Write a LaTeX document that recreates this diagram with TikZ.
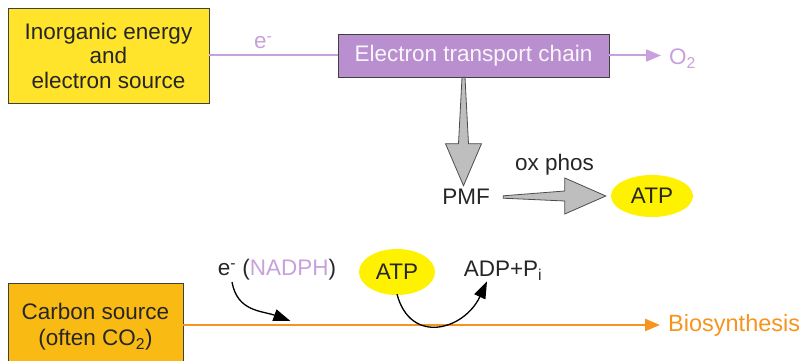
\documentclass[tikz,border=0pt]{standalone}
\usepackage{fontspec}
\setmainfont{Liberation Sans}
\usetikzlibrary{positioning, calc, arrows.meta, shapes.geometric}

\definecolor{srcyellow}{RGB}{255,228,43}
\definecolor{etcpurple}{RGB}{185,143,207}
\definecolor{linepurple}{RGB}{200,160,220}
\definecolor{carbonorange}{RGB}{250,186,20}
\definecolor{lineorange}{RGB}{247,148,29}
\definecolor{atpyellow}{RGB}{255,242,0}
\definecolor{pmfgray}{RGB}{190,190,190}

\begin{document}
\begin{tikzpicture}[x=1pt, y=1pt, font=\fontsize{22.5}{24.5}\selectfont, text=black!85,
    source/.style={rectangle, draw=black!75, thick, align=center, inner sep=0pt},
    chain/.style={rectangle, draw=black!75, thick, fill=etcpurple, text=white!92!etcpurple, inner sep=0pt, minimum width=271pt, minimum height=43pt},
    atp/.style={ellipse, fill=atpyellow, inner sep=0pt},
    elink/.style={draw=linepurple, line width=2pt},
    clink/.style={draw=lineorange, line width=2.4pt},
    curly/.style={black, line width=1.3pt, -{Triangle[length=17pt, width=12pt]}},
    blockarrow/.style={fill=pmfgray, draw=black!70, line width=0.8pt, line join=miter}]

    \clip (0,0) rectangle (801,361);

    % --- Energy and electrons ---
    \node[source, fill=srcyellow, minimum width=201pt, minimum height=95pt] (inorg) at (108.5,305.5) {Inorganic energy\\and\\electron source};
    \node[chain] (etc) at (473.5,305.5) {Electron transport chain};
    \node[anchor=base west, inner sep=0pt, text=linepurple] (oxy) at (669,296) {O\textsubscript{2}};
    \draw[elink] (inorg) -- node[pos=0.42, above=2pt, text=linepurple] (elabel) {e\textsuperscript{-}} (etc);
    \draw[elink, -{Triangle[length=15pt, width=12pt]}] (etc.east) -- ([xshift=-8pt]etc.east -| oxy.west);

    % --- Proton motive force ---
    \node (pmf) at (466,164) {PMF};
    \node[atp, minimum width=82pt, minimum height=42pt] (atp1) at (652,165) {ATP};
    \coordinate (dtop) at ([xshift=-10pt]etc.south);
    \coordinate (dtip) at (pmf.north -| dtop);
    \filldraw[blockarrow] ($(dtop)+(-1.5,0)$) -- ($(dtip)+(-5,42)$) -- ($(dtip)+(-18,42)$) -- (dtip)
        -- ($(dtip)+(18,42)$) -- ($(dtip)+(5,42)$) -- ($(dtop)+(1.5,0)$) -- cycle;
    \coordinate (rtail) at ([xshift=10pt]pmf.east);
    \coordinate (rtip) at ([xshift=-5pt]atp1.west);
    \filldraw[blockarrow] ($(rtail)+(0,1.2)$) -- ($(rtip)+(-41,5)$) -- ($(rtip)+(-41,18)$) -- (rtip)
        -- ($(rtip)+(-41,-18)$) -- ($(rtip)+(-41,-5)$) -- ($(rtail)+(0,-1.2)$) -- cycle;
    \node[above=18pt] (oxphos) at ($(rtail)!0.5!(rtip)$) {ox phos};

    % --- Carbon ---
    \node[source, fill=carbonorange, minimum width=175pt, minimum height=92pt, text depth=10pt, font=\fontsize{22.5}{26}\selectfont] (carbon) at (95.5,32) {Carbon source\\(often CO\textsubscript{2})};
    \node[anchor=west, inner sep=0pt, text=lineorange, font=\fontsize{23.5}{26}\selectfont] (bio) at (668,36) {Biosynthesis};
    \draw[clink, -{Triangle[length=15pt, width=12pt]}] (carbon.east |- bio.west) -- ([xshift=-8pt]bio.west);

    \node (nadph) at (277,91) {e\textsuperscript{-} ({\color{linepurple}NADPH})};
    \node[atp, minimum width=76pt, minimum height=46pt] (atp2) at (397,89) {ATP};
    \node (adp) at (503,90) {ADP+P\textsubscript{i}};
    \coordinate (nin) at ([xshift=107pt, yshift=4pt]carbon.east |- bio.west);
    \draw[curly] ([xshift=-45pt, yshift=2pt]nadph.south) to[out=-80, in=160, looseness=1.1] (nin);
    \draw[curly] ([yshift=1pt]atp2.south) to[out=-75, in=-115, looseness=1.5] ([xshift=-16pt, yshift=3pt]adp.south);

\end{tikzpicture}
\end{document}
